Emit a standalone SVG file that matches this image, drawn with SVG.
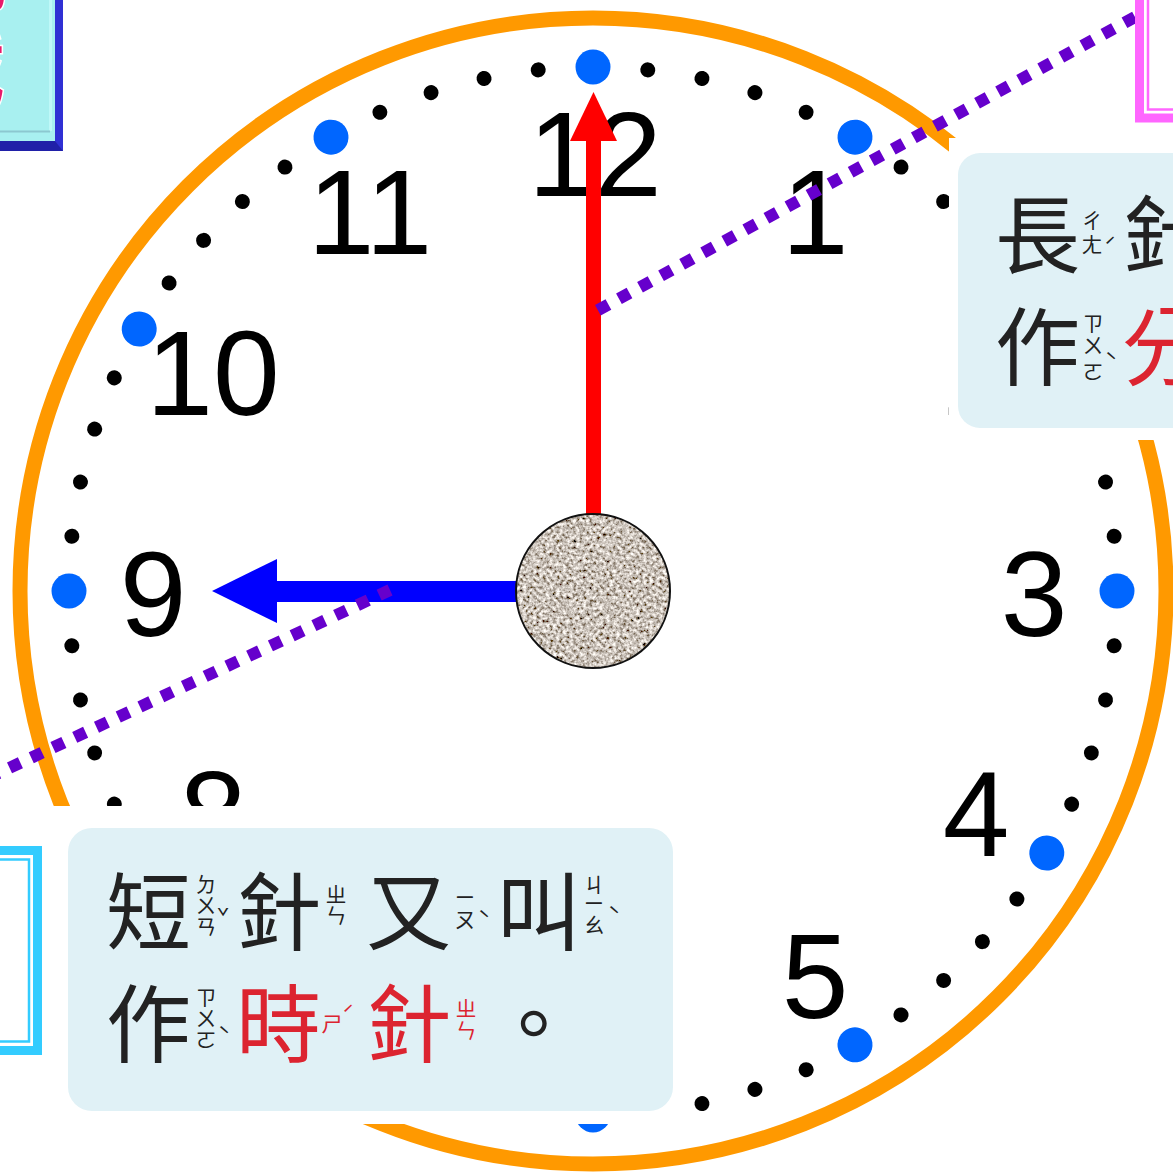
<svg xmlns="http://www.w3.org/2000/svg" xmlns:xlink="http://www.w3.org/1999/xlink" width="1173" height="1174" viewBox="0 0 1173 1174">
<style>
.num{font-family:"Liberation Sans",Arial,sans-serif;font-size:120px;fill:#000;text-anchor:middle}
.cj{font-family:"Noto Sans CJK TC","Noto Sans CJK SC",sans-serif;font-size:85px;fill:#222}
.zy{font-family:"Noto Sans CJK TC","Noto Sans CJK SC",sans-serif;font-size:21px;fill:#222;text-anchor:middle}
.red{fill:#dc2430}
.box{fill:#e0f1f6}
.mask{fill:#fff}
.ptr{fill:none;stroke:#6600cc;stroke-width:12;stroke-dasharray:12 12}
</style>
<defs>
<circle id="md" cx="593" cy="67" r="7.5" fill="#000"/>
<circle id="hd" cx="593" cy="67" r="17.5" fill="#0066ff"/>
<filter id="granite" x="0" y="0" width="100%" height="100%">
<feTurbulence type="fractalNoise" baseFrequency="0.3" numOctaves="3" seed="7" result="n"/>
<feColorMatrix in="n" type="matrix" values="1.7 0 0 0 -0.26  1.7 0 0 0 -0.31  1.7 0 0 0 -0.36  0 0 0 0 1" result="c"/>
<feComposite in="c" in2="SourceAlpha" operator="in"/>
</filter>
</defs>
<rect width="1173" height="1174" fill="#fff"/>

<g id="ring">
<circle cx="593" cy="591" r="573" fill="#fff" stroke="#ff9900" stroke-width="15"/>
</g>

<g id="minute-dots">
<use href="#md" transform="rotate(6 593 591)"/><use href="#md" transform="rotate(12 593 591)"/><use href="#md" transform="rotate(18 593 591)"/><use href="#md" transform="rotate(24 593 591)"/>
<use href="#md" transform="rotate(36 593 591)"/><use href="#md" transform="rotate(42 593 591)"/><use href="#md" transform="rotate(48 593 591)"/><use href="#md" transform="rotate(54 593 591)"/>
<use href="#md" transform="rotate(66 593 591)"/><use href="#md" transform="rotate(72 593 591)"/><use href="#md" transform="rotate(78 593 591)"/><use href="#md" transform="rotate(84 593 591)"/>
<use href="#md" transform="rotate(96 593 591)"/><use href="#md" transform="rotate(102 593 591)"/><use href="#md" transform="rotate(108 593 591)"/><use href="#md" transform="rotate(114 593 591)"/>
<use href="#md" transform="rotate(126 593 591)"/><use href="#md" transform="rotate(132 593 591)"/><use href="#md" transform="rotate(138 593 591)"/><use href="#md" transform="rotate(144 593 591)"/>
<use href="#md" transform="rotate(156 593 591)"/><use href="#md" transform="rotate(162 593 591)"/><use href="#md" transform="rotate(168 593 591)"/><use href="#md" transform="rotate(174 593 591)"/>
<use href="#md" transform="rotate(186 593 591)"/><use href="#md" transform="rotate(192 593 591)"/><use href="#md" transform="rotate(198 593 591)"/><use href="#md" transform="rotate(204 593 591)"/>
<use href="#md" transform="rotate(216 593 591)"/><use href="#md" transform="rotate(222 593 591)"/><use href="#md" transform="rotate(228 593 591)"/><use href="#md" transform="rotate(234 593 591)"/>
<use href="#md" transform="rotate(246 593 591)"/><use href="#md" transform="rotate(252 593 591)"/><use href="#md" transform="rotate(258 593 591)"/><use href="#md" transform="rotate(264 593 591)"/>
<use href="#md" transform="rotate(276 593 591)"/><use href="#md" transform="rotate(282 593 591)"/><use href="#md" transform="rotate(288 593 591)"/><use href="#md" transform="rotate(294 593 591)"/>
<use href="#md" transform="rotate(306 593 591)"/><use href="#md" transform="rotate(312 593 591)"/><use href="#md" transform="rotate(318 593 591)"/><use href="#md" transform="rotate(324 593 591)"/>
<use href="#md" transform="rotate(336 593 591)"/><use href="#md" transform="rotate(342 593 591)"/><use href="#md" transform="rotate(348 593 591)"/><use href="#md" transform="rotate(354 593 591)"/>
</g>
<g id="hour-dots">
<use href="#hd"/><use href="#hd" transform="rotate(30 593 591)"/><use href="#hd" transform="rotate(60 593 591)"/><use href="#hd" transform="rotate(90 593 591)"/>
<use href="#hd" transform="rotate(120 593 591)"/><use href="#hd" transform="rotate(150 593 591)"/><use href="#hd" transform="rotate(180 593 591)"/><use href="#hd" transform="rotate(210 593 591)"/>
<use href="#hd" transform="rotate(240 593 591)"/><use href="#hd" transform="rotate(270 593 591)"/><use href="#hd" transform="rotate(300 593 591)"/><use href="#hd" transform="rotate(330 593 591)"/>
</g>

<g id="numbers">
<text class="num" x="595" y="196">12</text>
<text class="num" x="815" y="254">1</text>
<text class="num" x="976" y="415">2</text>
<text class="num" x="1034" y="636">3</text>
<text class="num" x="976" y="856">4</text>
<text class="num" x="815" y="1018">5</text>
<text class="num" x="213" y="856">8</text>
<text class="num" x="153" y="636">9</text>
<text class="num" x="213" y="415">10</text>
<text class="num" x="370" y="254">11</text>
</g>

<g id="minute-hand">
<rect x="586" y="138" width="15" height="453" fill="#ff0000"/>
<polygon points="593.5,92 617,141 570,141" fill="#ff0000"/>
</g>
<g id="hour-hand">
<rect x="274" y="581" width="319" height="21" fill="#0000ff"/>
<polygon points="212,591 277,559 277,623" fill="#0000ff"/>
</g>
<g id="hub">
<circle cx="593" cy="591" r="77" fill="#a0948a" filter="url(#granite)"/>
<circle cx="593" cy="591" r="77" fill="none" stroke="#111" stroke-width="2"/>
</g>

<g id="connectors">
<line class="ptr" x1="1135" y1="17" x2="593" y2="313"/>
<line class="ptr" x1="390" y1="590" x2="-10" y2="777"/>
</g>

<g id="top-left-card">
<rect x="-10" y="-10" width="73" height="161" fill="#3030d4"/>
<polygon points="55,141 63,151 -10,151 -10,141" fill="#2020a8"/>
<rect x="-10" y="-10" width="65" height="151" fill="#a8f0f0"/>
<line x1="50.5" y1="-10" x2="50.5" y2="131" stroke="#bff8f8" stroke-width="3"/>
<line x1="-10" y1="131.5" x2="50" y2="131.5" stroke="#8cc8d0" stroke-width="2"/>
<text x="-80" y="4" font-family="Noto Sans CJK TC,sans-serif" font-size="100" fill="#e8186a" stroke="#fff" stroke-width="3" paint-order="stroke">認</text>
<text x="-93" y="100" font-family="Noto Sans CJK TC,sans-serif" font-size="100" fill="#e8186a" stroke="#fff" stroke-width="3" paint-order="stroke">識</text>
</g>

<g id="top-right-frame">
<rect x="1139.5" y="-20" width="100" height="138" fill="#fff" stroke="#ff66ff" stroke-width="9"/>
<rect x="1148" y="-20" width="100" height="129.5" fill="none" stroke="#ff66ff" stroke-width="2.5"/>
</g>

<g id="long-hand-label">
<rect class="mask" x="949" y="138" width="230" height="302"/>
<rect class="box" x="958" y="153" width="260" height="275" rx="22"/>
<text class="cj" x="995" y="267">長</text>
<text class="zy"><tspan x="1092" y="228">ㄔ</tspan><tspan x="1092" y="252">ㄤ</tspan><tspan x="1110" y="254">ˊ</tspan></text>
<text class="cj" x="1122" y="267">針</text>
<text class="cj" x="995" y="379">作</text>
<text class="zy"><tspan x="1093" y="331">ㄗ</tspan><tspan x="1093" y="353">ㄨ</tspan><tspan x="1093" y="379">ㄛ</tspan><tspan x="1111" y="369">ˋ</tspan></text>
<text class="cj red" x="1122" y="379">分</text>
</g>

<g id="left-frame">
<rect x="-100" y="806" width="776" height="318" class="mask"/>
<rect x="-100" y="850.5" width="137.5" height="200" fill="#fff" stroke="#33ccff" stroke-width="9"/>
<rect x="-100" y="859.5" width="129" height="182" fill="none" stroke="#33ccff" stroke-width="2.5"/>
</g>

<g id="short-hand-label">
<rect class="box" x="68" y="828" width="605" height="283" rx="24"/>
<text class="cj" x="106" y="944">短</text>
<text class="zy"><tspan x="206" y="892">ㄉ</tspan><tspan x="206" y="913">ㄨ</tspan><tspan x="206" y="934">ㄢ</tspan><tspan x="223" y="925">ˇ</tspan></text>
<text class="cj" x="236" y="944">針</text>
<text class="zy"><tspan x="336" y="902">ㄓ</tspan><tspan x="336" y="923">ㄣ</tspan></text>
<text class="cj" x="366" y="944">又</text>
<text class="zy"><tspan x="465" y="905">ㄧ</tspan><tspan x="465" y="927">ㄡ</tspan><tspan x="484" y="927">ˋ</tspan></text>
<text class="cj" x="496" y="944">叫</text>
<text class="zy"><tspan x="594" y="892">ㄐ</tspan><tspan x="594" y="911">ㄧ</tspan><tspan x="594" y="932">ㄠ</tspan><tspan x="614" y="923">ˋ</tspan></text>
<text class="cj" x="106" y="1056">作</text>
<text class="zy"><tspan x="206" y="1005">ㄗ</tspan><tspan x="206" y="1026">ㄨ</tspan><tspan x="206" y="1047">ㄛ</tspan><tspan x="224" y="1043">ˋ</tspan></text>
<text class="cj red" x="236" y="1056">時</text>
<text class="zy red"><tspan x="332" y="1031">ㄕ</tspan><tspan x="348" y="1022">ˊ</tspan></text>
<text class="cj red" x="366" y="1056">針</text>
<text class="zy red"><tspan x="466" y="1016">ㄓ</tspan><tspan x="466" y="1038">ㄣ</tspan></text>
<text class="cj" x="491" y="1056">。</text>
</g>
</svg>
